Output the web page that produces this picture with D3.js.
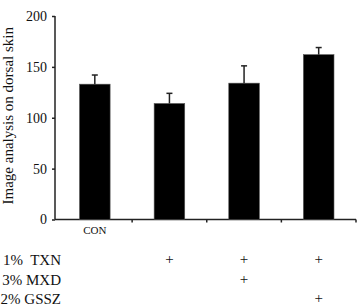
<!DOCTYPE html>
<html>
<head>
<meta charset="utf-8">
<script src="https://cdn.jsdelivr.net/npm/d3@7"></script>
<style>
  body { margin: 0; background: #fff; }
  svg { display: block; }
  svg text { font-family: "Liberation Serif", "Times New Roman", serif; fill: #111; }
</style>
</head>
<body>
<script>
// chart data
var groups = ["CON", "TXN", "TXN+MXD", "TXN+GSSZ"];
var groupLabels = ["CON", "", "", ""];
var means = [133, 114, 134, 162];
var errors = [9, 10, 17, 7];
var yTicks = [0, 50, 100, 150, 200];
var treatments = ["1%  TXN", "3% MXD", "2% GSSZ"];
// which group got which treatment (row per treatment)
var marks = [
  [false, true, true, true],
  [false, false, true, false],
  [false, false, false, true]
];

var width = 359, height = 306;
var serif = "Liberation Serif";

var svg = d3.select("body")
  .append("svg")
  .attr("width", width)
  .attr("height", height)
  .attr("font-family", serif);

var x = d3.scaleBand()
  .domain(groups)
  .range([57.5, 356]);

var y = d3.scaleLinear()
  .domain([0, 200])
  .range([219.5, 16]);

var barW = x.bandwidth() * 0.41;
var cx = i => x(groups[i]) + x.bandwidth() / 2;

// y axis
var yAxis = svg.append("g")
  .attr("transform", "translate(55,0)")
  .call(d3.axisLeft(y).tickValues(yTicks).tickSize(3).tickPadding(5));
yAxis.attr("font-family", serif).attr("font-size", 14);
yAxis.select(".domain").attr("stroke", "#222").attr("stroke-width", 1.5)
  .attr("d", "M0," + y(200) + "V" + y(0));
yAxis.selectAll(".tick line").attr("stroke", "#222").attr("stroke-width", 1.5);
yAxis.selectAll(".tick text").attr("fill", "#111");

// x axis line and ticks at band boundaries
svg.append("line")
  .attr("x1", 55).attr("x2", x.range()[1])
  .attr("y1", y(0)).attr("y2", y(0))
  .attr("stroke", "#222").attr("stroke-width", 1.5);

svg.selectAll(".xtick")
  .data(groups)
  .enter()
  .append("line")
  .attr("x1", d => x(d) + x.step())
  .attr("x2", d => x(d) + x.step())
  .attr("y1", y(0))
  .attr("y2", y(0) + 3)
  .attr("stroke", "#222")
  .attr("stroke-width", 1.5);

svg.selectAll(".xlab")
  .data(groups)
  .enter()
  .append("text")
  .attr("x", d => x(d) + x.bandwidth() / 2)
  .attr("y", y(0) + 14)
  .attr("text-anchor", "middle")
  .style("font-size", "11px")
  .text((d, i) => groupLabels[i]);

// bars
svg.selectAll(".bar")
  .data(means)
  .enter()
  .append("rect")
  .attr("x", (d, i) => cx(i) - barW / 2)
  .attr("y", d => y(d))
  .attr("width", barW)
  .attr("height", d => y(0) - y(d))
  .attr("fill", "#000")
  .attr("stroke", "#555")
  .attr("stroke-width", 0.6);

// error bars (upper only)
var eb = svg.selectAll(".err")
  .data(means)
  .enter()
  .append("g");

eb.append("line")
  .attr("x1", (d, i) => cx(i))
  .attr("x2", (d, i) => cx(i))
  .attr("y1", d => y(d))
  .attr("y2", (d, i) => y(d + errors[i]))
  .attr("stroke", "#222")
  .attr("stroke-width", 1.5);

eb.append("line")
  .attr("x1", (d, i) => cx(i) - 3)
  .attr("x2", (d, i) => cx(i) + 3)
  .attr("y1", (d, i) => y(d + errors[i]))
  .attr("y2", (d, i) => y(d + errors[i]))
  .attr("stroke", "#222")
  .attr("stroke-width", 1.5);

// y axis title
svg.append("text")
  .attr("transform", "translate(13," + ((y(0) + y(200)) / 2 - 2) + ") rotate(-90)")
  .attr("text-anchor", "middle")
  .style("font-size", "15px")
  .text("Image analysis on dorsal skin");

// treatment table
var rowY = d3.scalePoint()
  .domain(treatments)
  .range([265, 304]);

svg.selectAll(".treat")
  .data(treatments)
  .enter()
  .append("text")
  .attr("x", 61)
  .attr("y", d => rowY(d))
  .attr("text-anchor", "end")
  .style("font-size", "15px")
  .style("white-space", "pre")
  .text(d => d);

marks.forEach(function (row, r) {
  var idx = row.map((m, i) => m ? i : -1).filter(i => i >= 0);
  svg.selectAll(".plus" + r)
    .data(idx)
    .enter()
    .append("text")
    .attr("x", i => cx(i))
    .attr("y", rowY(treatments[r]) - 1)
    .attr("text-anchor", "middle")
    .style("font-size", "15px")
    .attr("fill", "#333")
    .text("+");
});
</script>
</body>
</html>
